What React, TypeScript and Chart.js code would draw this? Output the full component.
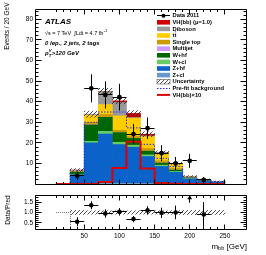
import React, { useEffect, useRef } from "react";
import { Chart, registerables } from "chart.js";

Chart.register(...registerables);

const FONT = '"Liberation Sans", Arial, Helvetica, sans-serif';

// ---------- binning (GeV) ----------
const binCenters = [20, 40, 60, 80, 100, 120, 140, 160, 180, 200, 220, 240];
const binEdges = [10, 30, 50, 70, 90, 110, 130, 150, 170, 190, 210, 230, 250];
const binHalfWidth = 10;

// ---------- stacked backgrounds + signal (events / bin) ----------
const zcl = [0, 0.2, 0.4, 0.4, 0.4, 0.4, 0.3, 0.3, 0.2, 0.1, 0.1, 0.05];
const zhf = [0, 4.4, 19.6, 23.9, 18.8, 17.5, 13.1, 8.3, 5.5, 2.4, 1.3, 0.8];
const wcl = [0, 0.2, 0.8, 1.3, 1.1, 1.0, 0.8, 0.6, 0.4, 0.2, 0.1, 0.05];
const whf = [0, 1.0, 7.9, 6.8, 4.7, 3.3, 1.8, 1.0, 0.7, 0.3, 0.2, 0.1];
const multijet = [0, 0, 0, 0, 0, 0, 0, 0, 0, 0, 0, 0];
const singleTop = [0, 0.2, 1.2, 1.4, 1.1, 1.1, 1.3, 1.1, 0.8, 0.2, 0.1, 0.1];
const ttbar = [0, 0.6, 3.5, 4.8, 7.0, 8.7, 5.7, 3.6, 2.1, 0.5, 0.3, 0.15];
const diboson = [0, 0.2, 0.5, 6.3, 6.5, 0.3, 0.4, 0.4, 0.3, 0.1, 0.1, 0.05];
const vhSignal = [0, 0, 0, 0.1, 0.8, 2.0, 0.8, 0.05, 0.02, 0, 0, 0];
const uncertainty = [0, 0.7, 1.5, 1.5, 1.4, 1.4, 1.2, 0.8, 0.6, 0.3, 0.2, 0.2];

// ---------- lines ----------
const prefitBkg = [0, 6.5, 30, 35, 35, 27.3, 19.3, 12.5, 8.5, 3.5, 2.0, 1.2];
const vhTimes10 = [0, 0, 0, 1, 7.8, 20.5, 7.6, 0.5, 0.2, 0, 0, 0];

// ---------- data ----------
const data2011 = [null, 4, 46.5, 43.3, 42.2, 24.3, 27.1, 15, 10, 11.3, 2, null];
const dataErr = [null, 2.0, 6.8, 6.6, 6.5, 4.9, 5.2, 3.9, 3.2, 3.4, 1.4, null];

// ---------- ratio panel ----------
const ratio = [null, 0.55, 1.35, 0.95, 1.03, 0.68, 1.1, 0.98, 1.0, 2.97, 0.9, null];
const ratioErr = [null, 0.22, 0.19, 0.2, 0.18, 0.15, 0.2, 0.25, 0.33, 1.5, 0.6, null];
const ratioUnc = [0, 0.1, 0.08, 0.08, 0.08, 0.08, 0.08, 0.08, 0.09, 0.1, 0.1, 0.1];

// ---------- axes ----------
const xRange = [10, 250];
const xMajorTicks = [50, 100, 150, 200, 250];
const xMinorStep = 10;
const yMainRange = [0, 85];
const yMainTicks = [10, 20, 30, 40, 50, 60, 70, 80];
const yMainMinorStep = 2;
const yRatioRange = [0.2, 1.8];
const yRatioTicks = [0.5, 1, 1.5];
const yRatioMinorStep = 0.1;

const stackComponents = [
  { label: "Z+cl", color: "#6699cc", values: zcl },
  { label: "Z+hf", color: "#0b63c9", values: zhf },
  { label: "W+cl", color: "#66cc66", values: wcl },
  { label: "W+hf", color: "#006600", values: whf },
  { label: "Multijet", color: "#cc99ff", values: multijet },
  { label: "Single top", color: "#cc9900", values: singleTop },
  { label: "ttbar", color: "#ffcc00", values: ttbar },
  { label: "Diboson", color: "#999999", values: diboson },
  { label: "VH(bb) (\u03bc=1.0)", color: "#cc0000", values: vhSignal },
];

const PREFIT_COLOR = "#2a2aff";
const VH10_COLOR = "#dd0000";

function makeHatch(): CanvasPattern | string {
  const c = document.createElement("canvas");
  c.width = 4;
  c.height = 4;
  const g = c.getContext("2d");
  if (!g) return "rgba(0,0,0,0.3)";
  g.strokeStyle = "#222";
  g.lineWidth = 0.8;
  g.beginPath();
  g.moveTo(0, 4);
  g.lineTo(4, 0);
  g.moveTo(-1, 1);
  g.lineTo(1, -1);
  g.moveTo(3, 5);
  g.lineTo(5, 3);
  g.stroke();
  return g.createPattern(c, "repeat") || "rgba(0,0,0,0.3)";
}

const crisp = (v: number) => Math.round(v - 0.5) + 0.5;

function range(from: number, to: number, step: number): number[] {
  const out: number[] = [];
  const n = Math.round((to - from) / step);
  for (let i = 0; i <= n; i++) out.push(+(from + i * step).toFixed(6));
  return out;
}

function drawFrameAndTicks(
  chart: any,
  yMinorStep: number,
  yRange: number[],
  yMajors: number[],
  xLen: [number, number],
  yLen: [number, number]
) {
  const { ctx, chartArea: a, scales } = chart;
  const xs = scales.x;
  const ys = scales.y;
  ctx.save();
  ctx.strokeStyle = "#000";
  ctx.lineWidth = 1;
  const L = crisp(a.left);
  const R = crisp(a.right);
  const T = crisp(a.top);
  const B = crisp(a.bottom);
  ctx.beginPath();
  ctx.rect(L, T, R - L, B - T);
  ctx.stroke();
  ctx.beginPath();
  for (const v of range(xRange[0], xRange[1], xMinorStep)) {
    const len = xMajorTicks.includes(v) ? xLen[0] : xLen[1];
    const px = crisp(xs.getPixelForValue(v));
    ctx.moveTo(px, B);
    ctx.lineTo(px, B - len);
    ctx.moveTo(px, T);
    ctx.lineTo(px, T + len);
  }
  const start = Math.ceil(yRange[0] / yMinorStep - 1e-6) * yMinorStep;
  for (const v of range(start, yRange[1], yMinorStep)) {
    if (v > yRange[1] + 1e-6) continue;
    const major = yMajors.some((m) => Math.abs(m - v) < 1e-6) || Math.abs(v) < 1e-6;
    const len = major ? yLen[0] : yLen[1];
    const py = crisp(ys.getPixelForValue(v));
    ctx.moveTo(L, py);
    ctx.lineTo(L + len, py);
    ctx.moveTo(R, py);
    ctx.lineTo(R - len, py);
  }
  ctx.stroke();
  ctx.restore();
}

function drawTtbar(ctx: CanvasRenderingContext2D, x: number, y: number) {
  ctx.fillText("tt", x, y);
  const w1 = ctx.measureText("t").width;
  const w2 = ctx.measureText("tt").width;
  ctx.save();
  ctx.strokeStyle = "#000";
  ctx.lineWidth = 0.6;
  ctx.beginPath();
  ctx.moveTo(x + w1 + 0.2, y - 3.6);
  ctx.lineTo(x + w2 - 0.2, y - 3.6);
  ctx.stroke();
  ctx.restore();
}

const mainDecor = {
  id: "mainDecor",
  afterDatasetsDraw(chart: any) {
    const { ctx, chartArea: a, scales } = chart;
    const xs = scales.x;
    const ys = scales.y;
    ctx.save();
    ctx.beginPath();
    ctx.rect(a.left, a.top, a.right - a.left, a.bottom - a.top);
    ctx.clip();
    ctx.strokeStyle = "#000";
    ctx.lineWidth = 1;
    ctx.beginPath();
    binCenters.forEach((c, i) => {
      const v = data2011[i];
      const e = dataErr[i];
      if (v == null || e == null) return;
      const px = crisp(xs.getPixelForValue(c));
      const py = crisp(ys.getPixelForValue(v));
      ctx.moveTo(xs.getPixelForValue(c - binHalfWidth), py);
      ctx.lineTo(xs.getPixelForValue(c + binHalfWidth), py);
      ctx.moveTo(px, ys.getPixelForValue(v + e));
      ctx.lineTo(px, ys.getPixelForValue(v - e));
    });
    ctx.stroke();
    ctx.restore();
  },
  afterDraw(chart: any) {
    const { ctx } = chart;
    drawFrameAndTicks(chart, yMainMinorStep, yMainRange, yMainTicks, [5, 2.5], [6, 3]);

    ctx.save();
    ctx.fillStyle = "#000";
    ctx.textBaseline = "middle";
    ctx.textAlign = "left";
    // ATLAS label block
    ctx.font = `italic bold 8px ${FONT}`;
    ctx.fillText("ATLAS", 45, 22);
    ctx.font = `5.5px ${FONT}`;
    const lumi = "\u221as = 7 TeV  \u222bLdt = 4.7 fb";
    ctx.fillText(lumi, 45, 33);
    const wl = ctx.measureText(lumi).width;
    ctx.font = `4px ${FONT}`;
    ctx.fillText("-1", 45 + wl + 0.3, 31.3);
    ctx.font = `italic bold 6px ${FONT}`;
    ctx.fillText("0 lep., 2 jets, 2 tags", 45, 43);
    ctx.fillText("p", 45, 53.5);
    const wp = ctx.measureText("p").width;
    ctx.font = `italic bold 4.2px ${FONT}`;
    ctx.fillText("T", 45 + wp, 55.6);
    ctx.fillText("V", 45 + wp, 50.8);
    const ws = Math.max(ctx.measureText("T").width, ctx.measureText("V").width);
    ctx.font = `italic bold 6px ${FONT}`;
    ctx.fillText(">120 GeV", 45 + wp + ws + 0.3, 53.5);

    // y title (aligned to the top)
    ctx.save();
    ctx.translate(7, 2.5);
    ctx.rotate(-Math.PI / 2);
    ctx.textAlign = "right";
    ctx.font = `6.5px ${FONT}`;
    ctx.fillText("Events / 20 GeV", 0, 0);
    ctx.restore();

    // legend
    const hatch = chart.$hatch;
    const bx = 157;
    const bw = 13;
    const tx = 172.5;
    const y0 = 15.7;
    const dy = 6.6;
    const entries: { kind: string; label: string; color?: string }[] = [
      { kind: "data", label: "Data 2011" },
      ...stackComponents
        .slice()
        .reverse()
        .map((c) => ({ kind: "box", label: c.label, color: c.color })),
      { kind: "hatch", label: "Uncertainty" },
      { kind: "dash", label: "Pre-fit background" },
      { kind: "line", label: "VH(bb)\u00d710" },
    ];
    entries.forEach((e, i) => {
      const y = y0 + i * dy;
      if (e.kind === "data") {
        ctx.strokeStyle = "#000";
        ctx.lineWidth = 1;
        ctx.beginPath();
        ctx.moveTo(bx, crisp(y));
        ctx.lineTo(bx + bw, crisp(y));
        ctx.stroke();
        ctx.beginPath();
        ctx.arc(bx + bw / 2, y, 2, 0, Math.PI * 2);
        ctx.fill();
      } else if (e.kind === "box") {
        ctx.fillStyle = e.color as string;
        ctx.fillRect(bx, y - 2.3, bw, 4.6);
      } else if (e.kind === "hatch") {
        ctx.fillStyle = hatch;
        ctx.fillRect(bx, y - 2.3, bw, 4.6);
        ctx.strokeStyle = "#555";
        ctx.lineWidth = 0.6;
        ctx.strokeRect(bx, y - 2.3, bw, 4.6);
      } else if (e.kind === "dash") {
        ctx.strokeStyle = PREFIT_COLOR;
        ctx.lineWidth = 1;
        ctx.setLineDash([1.5, 1.5]);
        ctx.beginPath();
        ctx.moveTo(bx, crisp(y));
        ctx.lineTo(bx + bw, crisp(y));
        ctx.stroke();
        ctx.setLineDash([]);
      } else if (e.kind === "line") {
        ctx.strokeStyle = VH10_COLOR;
        ctx.lineWidth = 2;
        ctx.beginPath();
        ctx.moveTo(bx, y);
        ctx.lineTo(bx + bw, y);
        ctx.stroke();
      }
      ctx.fillStyle = "#000";
      ctx.font = `bold 5.8px ${FONT}`;
      if (e.label === "ttbar") drawTtbar(ctx, tx, y);
      else ctx.fillText(e.label, tx, y);
    });
    ctx.restore();
  },
};

const ratioDecor = {
  id: "ratioDecor",
  beforeDatasetsDraw(chart: any) {
    const { ctx, scales } = chart;
    const xs = scales.x;
    const ys = scales.y;
    ctx.save();
    ctx.strokeStyle = "#777";
    ctx.lineWidth = 1;
    ctx.setLineDash([1, 1]);
    ctx.beginPath();
    const y1 = crisp(ys.getPixelForValue(1));
    const x30 = crisp(xs.getPixelForValue(binEdges[1]));
    ctx.moveTo(xs.getPixelForValue(xRange[0]), y1);
    ctx.lineTo(x30, y1);
    ctx.lineTo(x30, ys.getPixelForValue(yRatioRange[0]));
    ctx.stroke();
    ctx.restore();
  },
  afterDatasetsDraw(chart: any) {
    const { ctx, chartArea: a, scales } = chart;
    const xs = scales.x;
    const ys = scales.y;
    ctx.save();
    ctx.beginPath();
    ctx.rect(a.left, a.top, a.right - a.left, a.bottom - a.top);
    ctx.clip();
    ctx.strokeStyle = "#000";
    ctx.lineWidth = 1;
    ctx.beginPath();
    binCenters.forEach((c, i) => {
      const r = ratio[i];
      const e = ratioErr[i];
      if (r == null || e == null) return;
      const shown = Math.min(r, yRatioRange[1] - 0.1);
      const px = crisp(xs.getPixelForValue(c));
      const py = crisp(ys.getPixelForValue(shown));
      if (r <= yRatioRange[1]) {
        ctx.moveTo(xs.getPixelForValue(c - binHalfWidth), py);
        ctx.lineTo(xs.getPixelForValue(c + binHalfWidth), py);
        ctx.moveTo(px, ys.getPixelForValue(r + e));
      } else {
        ctx.moveTo(px, py);
      }
      ctx.lineTo(px, ys.getPixelForValue(r - e));
    });
    ctx.stroke();
    ctx.restore();
  },
  afterDraw(chart: any) {
    const { ctx } = chart;
    drawFrameAndTicks(chart, yRatioMinorStep, yRatioRange, yRatioTicks, [5, 2.5], [6, 3]);
    ctx.save();
    ctx.fillStyle = "#000";
    ctx.textBaseline = "middle";
    // x title: m_bb [GeV], right aligned
    const big = `8px ${FONT}`;
    const small = `5.6px ${FONT}`;
    ctx.font = big;
    const wm = ctx.measureText("m").width;
    const wg = ctx.measureText(" [GeV]").width;
    ctx.font = small;
    const wb = ctx.measureText("bb").width;
    const right = 247;
    const yT = 56.7;
    let x = right - (wm + wb + wg);
    ctx.textAlign = "left";
    ctx.font = big;
    ctx.fillText("m", x, yT);
    x += wm;
    ctx.font = small;
    ctx.fillText("bb", x, yT + 2);
    x += wb;
    ctx.font = big;
    ctx.fillText(" [GeV]", x, yT);
    // y title
    ctx.save();
    ctx.translate(8.3, 20);
    ctx.rotate(-Math.PI / 2);
    ctx.textAlign = "center";
    ctx.font = `6.5px ${FONT}`;
    ctx.fillText("Data/Pred", 0, 0);
    ctx.restore();
    ctx.restore();
  },
};

const tickFont = { family: FONT, size: 6.5 };

export default function App() {
  const mainRef = useRef<HTMLCanvasElement>(null);
  const ratioRef = useRef<HTMLCanvasElement>(null);

  useEffect(() => {
    document.body.style.margin = "0";
    const hatch = makeHatch();
    const totals = binCenters.map((_, i) =>
      stackComponents.reduce((s, c) => s + c.values[i], 0)
    );

    const stepData = (vals: number[]) =>
      binEdges.map((x, i) => ({ x, y: vals[Math.min(i, vals.length - 1)] }));

    const mainDatasets: any[] = [
      {
        type: "scatter",
        label: "Data 2011",
        data: binCenters.map((x, i) => ({ x, y: data2011[i] })),
        pointRadius: 2.4,
        pointBackgroundColor: "#000",
        pointBorderWidth: 0,
        showLine: false,
        order: 0,
      },
      {
        type: "line",
        label: "VH(bb)x10",
        data: stepData(vhTimes10),
        stepped: "before",
        borderColor: VH10_COLOR,
        borderWidth: 2,
        pointRadius: 0,
        fill: false,
        yAxisID: "y2",
        order: 1,
      },
      {
        type: "line",
        label: "Pre-fit background",
        data: stepData(prefitBkg),
        stepped: "before",
        borderColor: PREFIT_COLOR,
        borderWidth: 1,
        borderDash: [1.5, 1.5],
        pointRadius: 0,
        fill: false,
        yAxisID: "y2",
        order: 2,
      },
      {
        type: "bar",
        label: "Uncertainty",
        data: binCenters.map((x, i) => ({
          x,
          y: totals[i] > 0 ? [totals[i] - uncertainty[i], totals[i] + uncertainty[i]] : null,
        })),
        backgroundColor: hatch,
        borderWidth: 0,
        grouped: false,
        barPercentage: 1,
        categoryPercentage: 1,
        yAxisID: "y2",
        order: 3,
      },
      ...stackComponents.map((c) => ({
        type: "bar",
        label: c.label,
        data: binCenters.map((x, i) => ({ x, y: c.values[i] })),
        backgroundColor: c.color,
        borderWidth: 0,
        grouped: false,
        barPercentage: 1,
        categoryPercentage: 1,
        yAxisID: "y",
        order: 4,
      })),
    ];

    const main = new Chart(mainRef.current as HTMLCanvasElement, {
      type: "bar",
      data: { datasets: mainDatasets },
      plugins: [mainDecor],
      options: {
        animation: false,
        responsive: false,
        maintainAspectRatio: false,
        devicePixelRatio: 1,
        events: [],
        layout: { padding: { left: 0, right: 20, top: 9, bottom: 3 } },
        plugins: { legend: { display: false }, tooltip: { enabled: false } },
        scales: {
          x: {
            type: "linear",
            min: xRange[0],
            max: xRange[1],
            display: false,
            afterBuildTicks: (s: any) => {
              s.ticks = xMajorTicks.map((v) => ({ value: v }));
            },
          },
          y: {
            type: "linear",
            position: "left",
            min: yMainRange[0],
            max: yMainRange[1],
            stacked: true,
            afterBuildTicks: (s: any) => {
              s.ticks = yMainTicks.map((v) => ({ value: v }));
            },
            afterFit: (s: any) => {
              s.width = 35;
            },
            ticks: { font: tickFont, color: "#000", padding: 2 },
            grid: { display: false, drawTicks: false },
            border: { display: false },
          },
          y2: {
            type: "linear",
            display: false,
            min: yMainRange[0],
            max: yMainRange[1],
            stacked: false,
          },
        },
      } as any,
    } as any);
    (main as any).$hatch = hatch;
    main.draw();

    const ratioDatasets: any[] = [
      {
        type: "scatter",
        label: "Data/Pred",
        data: binCenters.map((x, i) => ({
          x,
          y: ratio[i] == null ? null : Math.min(ratio[i] as number, yRatioRange[1] - 0.1),
        })),
        pointStyle: binCenters.map((_, i) =>
          ratio[i] != null && (ratio[i] as number) > yRatioRange[1] ? "triangle" : "circle"
        ),
        pointRadius: binCenters.map((_, i) =>
          ratio[i] != null && (ratio[i] as number) > yRatioRange[1] ? 2.8 : 2.3
        ),
        pointBackgroundColor: "#000",
        pointBorderColor: "#000",
        pointBorderWidth: 0,
        showLine: false,
        order: 0,
      },
      {
        type: "bar",
        label: "Uncertainty",
        data: binCenters.map((x, i) => ({
          x,
          y: ratioUnc[i] > 0 ? [1 - ratioUnc[i], 1 + ratioUnc[i]] : null,
        })),
        backgroundColor: hatch,
        borderWidth: 0,
        grouped: false,
        barPercentage: 1,
        categoryPercentage: 1,
        order: 1,
      },
    ];

    const ratioChart = new Chart(ratioRef.current as HTMLCanvasElement, {
      type: "bar",
      data: { datasets: ratioDatasets },
      plugins: [ratioDecor],
      options: {
        animation: false,
        responsive: false,
        maintainAspectRatio: false,
        devicePixelRatio: 1,
        events: [],
        layout: { padding: { left: 0, right: 20, top: 4, bottom: 0 } },
        plugins: { legend: { display: false }, tooltip: { enabled: false } },
        scales: {
          x: {
            type: "linear",
            min: xRange[0],
            max: xRange[1],
            afterBuildTicks: (s: any) => {
              s.ticks = xMajorTicks.map((v) => ({ value: v }));
            },
            afterFit: (s: any) => {
              s.height = 26;
            },
            ticks: { font: tickFont, color: "#000", padding: 3, autoSkip: false, maxRotation: 0 },
            grid: { display: false, drawTicks: false },
            border: { display: false },
          },
          y: {
            type: "linear",
            position: "left",
            min: yRatioRange[0],
            max: yRatioRange[1],
            afterBuildTicks: (s: any) => {
              s.ticks = yRatioTicks.map((v) => ({ value: v }));
            },
            afterFit: (s: any) => {
              s.width = 35;
            },
            ticks: { font: tickFont, color: "#000", padding: 2 },
            grid: { display: false, drawTicks: false },
            border: { display: false },
          },
        },
      } as any,
    } as any);

    return () => {
      main.destroy();
      ratioChart.destroy();
    };
  }, []);

  return (
    <div
      style={{
        position: "absolute",
        left: 0,
        top: 0,
        width: 266,
        height: 255,
        background: "#fff",
      }}
    >
      <canvas
        ref={mainRef}
        width={266}
        height={190}
        style={{ position: "absolute", left: 0, top: 0 }}
      />
      <canvas
        ref={ratioRef}
        width={266}
        height={65}
        style={{ position: "absolute", left: 0, top: 190 }}
      />
    </div>
  );
}
